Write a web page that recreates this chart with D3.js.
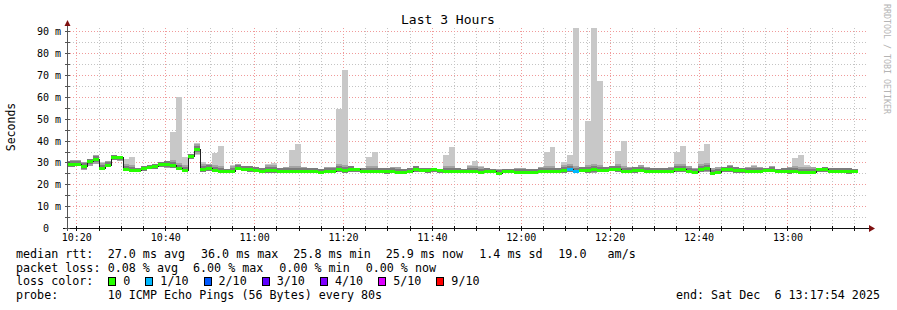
<!DOCTYPE html>
<html>
<head>
<meta charset="utf-8">
<script src="https://cdn.jsdelivr.net/npm/d3@7"></script>
<style>
  body { margin: 0; background: #fff; }
  text { font-family: "DejaVu Sans Mono", monospace; fill: #000; }
</style>
</head>
<body>
<div id="chart-area"></div>
<script>
// time window of the graph and the 80s probe steps
var startTime = new Date(2025, 11, 6, 10, 17, 54),
    endTime   = new Date(2025, 11, 6, 13, 17, 54),
    firstStep = new Date(2025, 11, 6, 10, 17, 8),
    stepSec   = 80;

// median rtt per step (ms)
var median = [
  29.3, 29.5, 29.3, 28.3, 30.5, 31.8, 27.5, 29.0, 32.3, 32.3,
  27.0, 26.5, 26.5, 27.3, 27.8, 28.6, 29.3, 29.3, 29.0, 27.7,
  26.5, 32.8, 36.0, 27.0, 27.6, 26.5, 26.0, 26.0, 26.3, 27.6,
  27.0, 26.8, 26.5, 26.0, 26.4, 26.4, 26.2, 26.2, 26.2, 26.0,
  26.2, 26.2, 25.9, 25.8, 26.2, 26.3, 26.8, 26.6, 27.0, 27.0,
  26.3, 26.3, 26.3, 26.2, 26.1, 26.1, 25.6, 25.6, 26.1, 27.2,
  26.5, 26.5, 27.0, 26.5, 26.0, 26.0, 26.0, 26.0, 26.2, 26.2,
  25.8, 26.1, 26.1, 25.4, 26.2, 26.2, 25.8, 25.8, 25.8, 25.8,
  26.2, 26.2, 26.2, 26.2, 26.4, 26.8, 26.2, 26.5, 26.5, 26.9,
  26.5, 26.5, 27.2, 27.2, 26.1, 26.1, 26.5, 26.5, 26.2, 26.3,
  26.3, 26.2, 26.2, 26.8, 26.8, 26.3, 25.5, 27.0, 27.3, 25.3,
  25.6, 26.8, 26.8, 26.5, 26.5, 26.2, 26.2, 26.3, 26.6, 26.6,
  25.9, 25.9, 25.9, 25.9, 25.6, 25.6, 25.6, 27.0, 27.0, 26.3,
  26.3, 26.3, 26.0, 25.9
];

// fastest ping per step (ms)
var pingMin = [
  28.0, 28.0, 28.3, 26.6, 28.5, 29.5, 26.8, 28.0, 31.0, 30.5,
  26.3, 26.0, 25.5, 26.3, 26.8, 27.2, 27.8, 27.5, 27.5, 26.5,
  25.5, 31.5, 33.5, 25.5, 26.0, 25.5, 25.5, 25.5, 25.5, 26.5,
  26.0, 25.5, 25.5, 25.5, 25.3, 25.3, 25.3, 25.5, 25.3, 25.0,
  25.3, 25.0, 25.0, 24.9, 25.3, 25.5, 25.5, 25.2, 25.8, 25.5,
  25.2, 25.0, 25.2, 25.2, 24.9, 25.0, 24.8, 24.8, 25.2, 25.5,
  25.5, 25.0, 25.5, 25.3, 25.0, 25.0, 25.2, 25.0, 25.3, 25.3,
  25.0, 25.2, 25.0, 24.8, 25.3, 25.2, 25.0, 25.0, 25.0, 25.0,
  25.3, 25.3, 25.2, 25.2, 25.3, 25.5, 25.3, 25.5, 25.0, 25.3,
  25.5, 25.5, 26.0, 25.5, 25.0, 25.0, 25.3, 25.5, 25.3, 25.3,
  25.3, 25.0, 25.3, 25.5, 25.5, 25.3, 24.8, 25.5, 25.5, 24.8,
  24.8, 25.5, 25.5, 25.3, 25.3, 25.2, 25.0, 25.3, 25.5, 25.5,
  25.0, 25.0, 24.8, 25.0, 24.8, 24.8, 24.8, 25.5, 25.5, 25.3,
  25.3, 25.0, 24.8, 25.0
];

// slowest ping per step (ms)
var pingMax = [
  30.8, 31.0, 31.3, 30.0, 31.6, 33.5, 30.0, 30.5, 33.5, 33.0,
  31.5, 32.5, 27.5, 28.5, 29.0, 29.5, 30.0, 30.5, 44.0, 60.0,
  32.5, 34.0, 39.0, 30.0, 29.5, 34.5, 37.5, 27.0, 29.0, 29.2,
  28.5, 28.5, 28.0, 27.5, 29.3, 29.9, 27.5, 28.0, 35.7, 38.5,
  28.0, 27.5, 27.3, 27.0, 28.0, 28.0, 54.5, 72.4, 28.2, 27.5,
  27.3, 32.5, 34.8, 27.5, 27.5, 28.0, 28.0, 27.0, 27.5, 28.5,
  27.5, 27.5, 27.3, 27.0, 33.4, 37.1, 27.5, 27.0, 28.8, 30.7,
  28.4, 27.3, 27.2, 27.2, 27.2, 27.2, 27.5, 27.5, 27.0, 27.0,
  28.0, 34.8, 37.1, 27.3, 30.1, 33.6, 91.6, 27.8, 49.2, 91.6,
  67.3, 28.0, 28.4, 35.2, 39.8, 27.8, 28.0, 28.9, 28.0, 27.5,
  27.6, 27.6, 28.0, 35.0, 37.6, 28.4, 27.5, 35.3, 38.5, 27.5,
  28.0, 28.0, 28.9, 27.8, 27.5, 28.1, 28.9, 28.0, 27.5, 28.4,
  26.9, 27.3, 28.1, 32.1, 33.4, 29.0, 28.0, 27.5, 28.0, 27.5,
  27.5, 27.5, 27.3, 26.9
];

// lost pings (out of 10) per step
var loss = [
  0,0,0,0,0,0,0,0,0,0, 0,0,0,0,0,0,0,0,0,0,
  0,0,0,0,0,0,0,0,0,0, 0,0,0,0,0,0,0,0,0,0,
  0,0,0,0,0,0,0,0,0,0, 0,0,0,0,0,0,0,0,0,0,
  0,0,0,0,0,0,0,0,0,0, 0,0,0,0,0,0,0,0,0,0,
  0,0,0,0,0,1,1,0,0,0, 0,0,0,0,0,0,0,0,0,0,
  0,0,0,0,0,0,0,0,0,0, 0,0,0,0,0,0,0,0,0,0,
  0,0,0,0,0,0,0,0,0,0, 0,0,0,0
];

var lossLabels = ["0", "1/10", "2/10", "3/10", "4/10", "5/10", "9/10"];
var lossColors = ["#26ff00", "#00b8ff", "#0059ff", "#5e00ff", "#7e00ff", "#dd00ff", "#ff0000"];

var yTicks = [0, 10, 20, 30, 40, 50, 60, 70, 80, 90];
var yMinor = [5, 15, 25, 35, 45, 55, 65, 75, 85];

var statsRtt  = ["median rtt:", "27.0 ms avg", "36.0 ms max", "25.8 ms min", "25.9 ms now", "1.4 ms sd", "19.0   am/s"];
var statsLoss = ["packet loss:", "0.08 % avg", "6.00 % max", "0.00 % min", "0.00 % now"];

// keep runs of spaces in svg text
function keep(s){ return s.replace(/ /g, "\u00a0"); }

var svg = d3.select("#chart-area")
  .append("svg")
    .attr("width", 897)
    .attr("height", 310);

var plotLeft = 67, plotRight = 867, plotTop = 28, plotBottom = 228;

var x = d3.scaleTime().domain([startTime, endTime]).range([plotLeft, plotRight]);
var y = d3.scaleLinear().domain([0, 91.6]).range([plotBottom, plotTop]);

// grid (under the data, rrdtool style)
var grid = svg.append("g");
var minorTimes = d3.timeMinute.every(5).range(startTime, endTime)
  .filter(function(t){ return t.getMinutes() % 20 != 0; });
var majorTimes = d3.timeMinute.every(20).range(startTime, endTime);

function vlines(data, color){
  grid.selectAll(null).data(data).enter().append("line")
    .attr("x1", function(d){ return Math.round(x(d)) + 0.5; })
    .attr("x2", function(d){ return Math.round(x(d)) + 0.5; })
    .attr("y1", plotTop).attr("y2", plotBottom)
    .attr("stroke", color).attr("stroke-dasharray", "1,2");
}
function hlines(data, color){
  grid.selectAll(null).data(data).enter().append("line")
    .attr("x1", plotLeft).attr("x2", plotRight + 1)
    .attr("y1", function(d){ return Math.round(y(d)) + 0.5; })
    .attr("y2", function(d){ return Math.round(y(d)) + 0.5; })
    .attr("stroke", color).attr("stroke-dasharray", "1,2");
}
vlines(minorTimes, "#c4c4c4");
hlines(yMinor, "#c4c4c4");
vlines(majorTimes, "#f09a9a");
hlines(yTicks.slice(1), "#f09a9a");

// steps
var steps = median.map(function(m, i){
  var t0 = d3.timeSecond.offset(firstStep, i * stepSec);
  return { t0: t0, t1: d3.timeSecond.offset(t0, stepSec),
           med: m, lo: pingMin[i], hi: pingMax[i], loss: loss[i] };
});

svg.append("clipPath").attr("id", "plot-clip")
  .append("rect").attr("x", plotLeft).attr("y", plotTop)
  .attr("width", plotRight - plotLeft).attr("height", plotBottom - plotTop);

var plot = svg.append("g").attr("clip-path", "url(#plot-clip)")
  .attr("shape-rendering", "crispEdges");

function sx(d){ return Math.round(x(d.t0)); }
function sw(d){ return Math.round(x(d.t1)) - Math.round(x(d.t0)); }

// smoke: full spread of the pings
plot.selectAll(".smoke").data(steps).enter().append("rect")
  .attr("x", sx).attr("width", sw)
  .attr("y", function(d){ return y(d.hi); })
  .attr("height", function(d){ return y(d.lo) - y(d.hi); })
  .attr("fill", "#c8c8c8");

// denser smoke close to the median
[[5, "#a4a4a4"], [3, "#7c7c7c"]].forEach(function(band){
  plot.selectAll(null).data(steps).enter().append("rect")
    .attr("x", sx).attr("width", sw)
    .attr("y", function(d){ return Math.max(y(d.hi), y(d.med) - band[0]); })
    .attr("height", function(d){
      return Math.max(0, Math.min(y(d.lo), y(d.med) + band[0]) - Math.max(y(d.hi), y(d.med) - band[0]));
    })
    .attr("fill", band[1]);
});

// median line
var last = steps[steps.length - 1];
var lineData = steps.concat([{ t0: last.t1, med: last.med }]);
plot.append("path")
  .datum(lineData)
  .attr("fill", "none")
  .attr("stroke", "#202020")
  .attr("stroke-width", 1)
  .attr("d", d3.line()
    .x(function(d){ return Math.round(x(d.t0)); })
    .y(function(d){ return Math.round(y(d.med)) + 0.5; })
    .curve(d3.curveStepAfter));

// median coloured by loss
plot.selectAll(".med").data(steps).enter().append("rect")
  .attr("x", sx).attr("width", sw)
  .attr("y", function(d){ return Math.round(y(d.med)) - 1; })
  .attr("height", 3)
  .attr("fill", function(d){ return lossColors[d.loss]; });

// axes
svg.append("line").attr("x1", plotLeft + 0.5).attr("x2", plotLeft + 0.5)
  .attr("y1", plotBottom + 3).attr("y2", plotTop - 4)
  .attr("stroke", "#555");
svg.append("line").attr("x1", plotLeft - 4).attr("x2", plotRight + 3)
  .attr("y1", plotBottom + 0.5).attr("y2", plotBottom + 0.5)
  .attr("stroke", "#111");
svg.append("path").attr("d", "M64.5,26 L67.5,20 L70.5,26 Z").attr("fill", "#7f1010");
svg.append("path").attr("d", "M869,225 L875,228.5 L869,232 Z").attr("fill", "#7f1010");

// y tick marks and labels
var yAxisCall = d3.axisLeft(y)
  .tickValues(yTicks)
  .tickSize(0)
  .tickFormat(function(d){ return d == 0 ? keep("0  ") : keep(d + " m"); });
var yAxis = svg.append("g")
  .attr("transform", "translate(61, 0)")
  .call(yAxisCall);
yAxis.select(".domain").remove();
yAxis.selectAll("text")
  .attr("x", 0).attr("dy", "0.34em")
  .attr("font-size", "10px")
  .attr("font-family", "DejaVu Sans Mono")
  .attr("fill", "#000");

svg.append("g").selectAll("line").data(yTicks.concat(yMinor)).enter().append("line")
  .attr("x1", plotLeft - 2).attr("x2", plotLeft + 3)
  .attr("y1", function(d){ return Math.round(y(d)) + 0.5; })
  .attr("y2", function(d){ return Math.round(y(d)) + 0.5; })
  .attr("stroke", "#555");

// x tick labels
var xAxisCall = d3.axisBottom(x)
  .tickValues(majorTimes)
  .tickSize(0)
  .tickFormat(d3.timeFormat("%H:%M"));
var xAxis = svg.append("g")
  .attr("transform", "translate(0, " + plotBottom + ")")
  .call(xAxisCall);
xAxis.select(".domain").remove();
xAxis.selectAll("text")
  .attr("y", 13).attr("dy", 0)
  .attr("font-size", "10px")
  .attr("font-family", "DejaVu Sans Mono")
  .attr("fill", "#000");

svg.append("g").selectAll("line").data(majorTimes.concat(minorTimes)).enter().append("line")
  .attr("x1", function(d){ return Math.round(x(d)) + 0.5; })
  .attr("x2", function(d){ return Math.round(x(d)) + 0.5; })
  .attr("y1", plotBottom - 2).attr("y2", plotBottom + 3)
  .attr("stroke", "#111");

// title and labels
svg.append("text")
  .attr("x", 448).attr("y", 24)
  .attr("text-anchor", "middle")
  .attr("font-size", "13px")
  .text("Last 3 Hours");

svg.append("text")
  .attr("transform", "translate(15, 127) rotate(-90)")
  .attr("text-anchor", "middle")
  .attr("font-size", "11.5px")
  .text("Seconds");

svg.append("text")
  .attr("transform", "translate(884, 4) rotate(90)")
  .attr("font-size", "8.3px")
  .style("fill", "#b4b4b4")
  .text("RRDTOOL / TOBI OETIKER");

// legend
var legendX = [16, 107.7, 201, 293.3, 385.7, 479.3, 558.3];
var legendXLoss = [16, 107.7, 193, 279.3, 365.7];
var legend = svg.append("g").attr("font-size", "11.7px");

legend.selectAll(".rtt").data(statsRtt).enter().append("text")
  .attr("x", function(d, i){ return legendX[i]; })
  .attr("y", 258)
  .text(keep);

legend.selectAll(".ploss").data(statsLoss).enter().append("text")
  .attr("x", function(d, i){ return legendXLoss[i]; })
  .attr("y", 271.7)
  .text(keep);

legend.append("text").attr("x", 16).attr("y", 285.4).text(keep("loss color:"));
var bx = 108.3;
lossLabels.forEach(function(lbl, i){
  legend.append("rect")
    .attr("x", Math.round(bx) + 0.5).attr("y", 277.5)
    .attr("width", 7).attr("height", 8)
    .attr("fill", lossColors[i]).attr("stroke", "#000");
  legend.append("text").attr("x", bx + 15).attr("y", 285.4).text(lbl);
  bx = bx + 15 + lbl.length * 7.05 + 15;
});

legend.append("text").attr("x", 16).attr("y", 299).text("probe:");
legend.append("text").attr("x", 107.7).attr("y", 299).text(keep("10 ICMP Echo Pings (56 Bytes) every 80s"));
legend.append("text").attr("x", 880).attr("y", 299).attr("text-anchor", "end")
  .text(keep("end: Sat Dec  6 13:17:54 2025"));
</script>
</body>
</html>
